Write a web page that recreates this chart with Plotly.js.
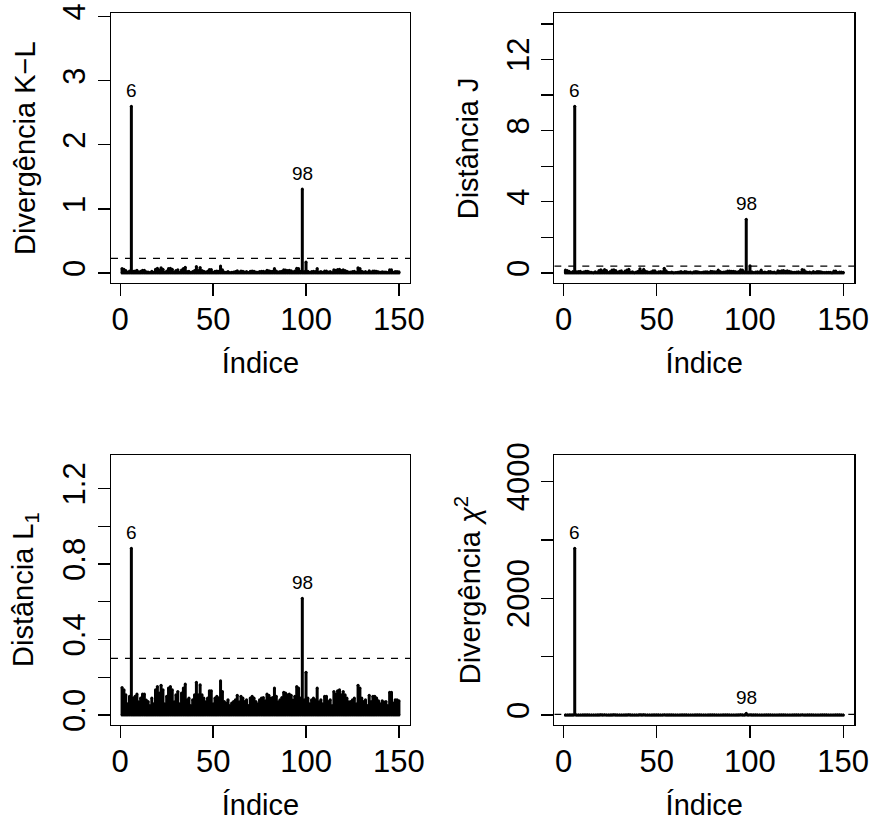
<!DOCTYPE html>
<html><head><meta charset="utf-8">
<script src="https://cdn.plot.ly/plotly-3.0.1.min.js"></script>
<style>html,body{margin:0;padding:0;background:#fff}#chart{width:869px;height:823px}</style>
</head><body><div id="chart"></div>
<script>
// Index of observations (x axis)
const indice = Array.from({length: 150}, (_, i) => i + 1);

// Divergência K-L
const divKL = [0.071,0.060,0.038,0.012,0.033,2.60,0.027,0.033,0.041,0.016,
0.027,0.041,0.041,0.021,0.017,0.008,0.027,0.012,0.060,0.076,
0.045,0.083,0.060,0.012,0.033,0.069,0.076,0.060,0.016,0.038,
0.052,0.012,0.045,0.069,0.090,0.022,0.027,0.008,0.022,0.038,
0.101,0.038,0.086,0.038,0.027,0.016,0.027,0.056,0.056,0.012,
0.027,0.033,0.027,0.110,0.052,0.017,0.013,0.022,0.008,0.013,
0.017,0.022,0.036,0.016,0.033,0.027,0.017,0.022,0.008,0.027,
0.033,0.027,0.017,0.012,0.022,0.027,0.029,0.019,0.041,0.036,
0.027,0.029,0.069,0.033,0.016,0.022,0.029,0.049,0.045,0.038,
0.041,0.036,0.021,0.033,0.076,0.069,0.027,1.31,0.022,0.173,
0.027,0.012,0.022,0.027,0.022,0.069,0.016,0.022,0.012,0.033,
0.033,0.017,0.022,0.008,0.052,0.041,0.056,0.060,0.038,0.052,
0.038,0.027,0.016,0.017,0.022,0.027,0.012,0.083,0.069,0.027,
0.017,0.022,0.008,0.036,0.017,0.033,0.033,0.027,0.019,0.012,
0.019,0.016,0.017,0.008,0.049,0.049,0.013,0.022,0.022,0.019];

// Distância J
const distJ = [0.171,0.144,0.092,0.029,0.078,9.37,0.065,0.078,0.099,0.039,
0.065,0.099,0.099,0.051,0.041,0.020,0.065,0.029,0.144,0.182,
0.108,0.197,0.144,0.029,0.078,0.164,0.182,0.144,0.039,0.092,
0.125,0.029,0.108,0.164,0.215,0.052,0.065,0.020,0.052,0.092,
0.242,0.092,0.205,0.092,0.065,0.039,0.065,0.133,0.133,0.029,
0.065,0.078,0.065,0.262,0.125,0.041,0.032,0.052,0.020,0.032,
0.041,0.052,0.087,0.039,0.078,0.065,0.041,0.052,0.020,0.065,
0.078,0.065,0.041,0.029,0.052,0.065,0.069,0.046,0.099,0.087,
0.065,0.069,0.164,0.078,0.039,0.052,0.069,0.117,0.108,0.092,
0.099,0.087,0.051,0.078,0.182,0.164,0.065,3.02,0.052,0.412,
0.065,0.029,0.052,0.065,0.052,0.164,0.039,0.052,0.029,0.078,
0.078,0.041,0.052,0.020,0.125,0.099,0.133,0.144,0.092,0.125,
0.092,0.065,0.039,0.041,0.052,0.065,0.029,0.197,0.164,0.065,
0.041,0.052,0.020,0.087,0.041,0.078,0.078,0.065,0.046,0.029,
0.046,0.038,0.041,0.020,0.117,0.117,0.032,0.052,0.052,0.046];

// Distância L1
const distL1 = [0.146,0.134,0.107,0.060,0.099,0.883,0.090,0.099,0.111,0.070,
0.090,0.111,0.111,0.080,0.072,0.050,0.090,0.060,0.134,0.151,
0.116,0.157,0.134,0.060,0.099,0.143,0.151,0.134,0.070,0.107,
0.125,0.060,0.116,0.143,0.164,0.081,0.090,0.050,0.081,0.107,
0.174,0.107,0.160,0.107,0.090,0.070,0.090,0.129,0.129,0.060,
0.090,0.099,0.090,0.181,0.125,0.072,0.063,0.081,0.050,0.063,
0.072,0.081,0.104,0.070,0.099,0.090,0.072,0.081,0.050,0.090,
0.099,0.090,0.072,0.060,0.081,0.090,0.093,0.076,0.111,0.104,
0.090,0.093,0.143,0.099,0.070,0.081,0.093,0.121,0.116,0.107,
0.111,0.104,0.080,0.099,0.151,0.143,0.090,0.618,0.081,0.227,
0.090,0.060,0.081,0.090,0.081,0.143,0.070,0.081,0.060,0.099,
0.099,0.072,0.081,0.050,0.125,0.111,0.129,0.134,0.107,0.125,
0.107,0.090,0.070,0.072,0.081,0.090,0.060,0.157,0.143,0.090,
0.072,0.081,0.050,0.104,0.072,0.099,0.099,0.090,0.076,0.060,
0.076,0.069,0.072,0.050,0.121,0.121,0.063,0.081,0.081,0.076];

// Divergência chi-quadrado
const divChi2 = [2.1,1.8,1.1,0.4,1.0,2855,0.8,1.0,1.2,0.5,
0.8,1.2,1.2,0.6,0.5,0.3,0.8,0.4,1.8,2.3,
1.3,2.5,1.8,0.4,1.0,2.0,2.3,1.8,0.5,1.1,
1.6,0.4,1.3,2.0,2.7,0.7,0.8,0.3,0.7,1.1,
3.0,1.1,2.6,1.1,0.8,0.5,0.8,1.7,1.7,0.4,
0.8,1.0,0.8,3.3,1.6,0.5,0.4,0.7,0.3,0.4,
0.5,0.7,1.1,0.5,1.0,0.8,0.5,0.7,0.3,0.8,
1.0,0.8,0.5,0.4,0.7,0.8,0.9,0.6,1.2,1.1,
0.8,0.9,2.0,1.0,0.5,0.7,0.9,1.5,1.3,1.1,
1.2,1.1,0.6,1.0,2.3,2.0,0.8,30,0.7,5.2,
0.8,0.4,0.7,0.8,0.7,2.0,0.5,0.7,0.4,1.0,
1.0,0.5,0.7,0.3,1.6,1.2,1.7,1.8,1.1,1.6,
1.1,0.8,0.5,0.5,0.7,0.8,0.4,2.5,2.0,0.8,
0.5,0.7,0.3,1.1,0.5,1.0,1.0,0.8,0.6,0.4,
0.6,0.5,0.5,0.3,1.5,1.5,0.4,0.7,0.7,0.6];

// Highlighted observations
const destaques = [6, 98];

// Cut-off lines
const corteKL = 0.229;
const corteJ = 0.39;
const corteL1 = 0.30;
const corteChi2 = 10;

// Tick values / labels (labelled ticks and unlabelled ticks)
const xTicks = [0, 50, 100, 150];
const yTicksKL = [0, 1, 2, 3, 4];
const yMinorKL = [];
const yTicksJ = [0, 4, 8, 12];
const yMinorJ = [2, 6, 10, 14];
const yTicksL1 = [0, 0.4, 0.8, 1.2];
const yTextL1 = ['0.0', '0.4', '0.8', '1.2'];
const yMinorL1 = [0.2, 0.6, 1.0];
const yTicksChi2 = [0, 2000, 4000];
const yMinorChi2 = [1000, 3000];

const W = 869, H = 823;
const XRANGE = [-4.96, 155.96];
const FONT = '"Liberation Sans", Arial, Helvetica, sans-serif';

const panels = [
  {vals: divKL, ytitle: 'Divergência K−L', box: [111, 13, 410, 283], yr: [-0.156, 4.056], tv: yTicksKL, tt: yTicksKL.map(String), mv: yMinorKL, cut: corteKL},
  {vals: distJ, ytitle: 'Distância J', box: [554.3, 13, 854.3, 283], yr: [-0.562, 14.61], tv: yTicksJ, tt: yTicksJ.map(String), mv: yMinorJ, cut: corteJ},
  {vals: distL1, ytitle: 'Distância L<sub>1</sub>', box: [111, 455, 410, 725], yr: [-0.053, 1.3775], tv: yTicksL1, tt: yTextL1, mv: yMinorL1, cut: corteL1},
  {vals: divChi2, ytitle: 'Divergência <i>χ</i><sup>2</sup>', box: [554.3, 455, 854.3, 725], yr: [-171.3, 4453.6], tv: yTicksChi2, tt: yTicksChi2.map(String), mv: yMinorChi2, cut: corteChi2}
];

const data = [];
const layout = {
  width: W, height: H,
  margin: {l: 0, r: 0, t: 0, b: 0},
  paper_bgcolor: '#fff', plot_bgcolor: '#fff',
  showlegend: false,
  font: {family: FONT, color: '#000'},
  annotations: []
};

panels.forEach((p, k) => {
  const n = k + 1;
  const xa = 'xaxis' + (n === 1 ? '' : n);
  const ya = 'yaxis' + (n === 1 ? '' : n);
  const xr = 'x' + (n === 1 ? '' : n);
  const yr = 'y' + (n === 1 ? '' : n);
  const [l, t, r, b] = p.box;

  // cut-off (dashed) line across the whole plotting region
  data.push({
    type: 'scatter', mode: 'lines', x: XRANGE, y: [p.cut, p.cut], xaxis: xr, yaxis: yr,
    line: {color: '#000', width: 1.3, dash: '7px,7px'}, hoverinfo: 'skip'
  });

  const xs = [], ys = [];
  indice.forEach((i, j) => { xs.push(i, i, null); ys.push(0, p.vals[j], null); });
  data.push({
    type: 'scatter', mode: 'lines+markers', x: xs, y: ys, xaxis: xr, yaxis: yr,
    line: {color: '#000', width: 3}, marker: {color: '#000', size: 3},
    hoverinfo: 'skip'
  });

  const axCommon = {
    showgrid: false, zeroline: false, showline: true, mirror: true,
    linecolor: '#000', linewidth: 1.3,
    ticks: 'outside', ticklen: 12, tickwidth: 1.3, tickcolor: '#000',
    ticklabeloverflow: 'allow', automargin: false,
    tickfont: {family: FONT, size: 31, color: '#000'}, fixedrange: true
  };
  layout[xa] = Object.assign({}, axCommon, {
    domain: [l / W, r / W], range: XRANGE, anchor: yr,
    tickmode: 'array', tickvals: xTicks, ticktext: xTicks.map(String),
    ticklabelstandoff: -4,
    title: {text: 'Índice', font: {family: FONT, size: 29, color: '#000'}, standoff: 17}
  });
  layout[ya] = Object.assign({}, axCommon, {
    domain: [1 - b / H, 1 - t / H], range: p.yr, anchor: xr,
    tickmode: 'array', tickvals: p.tv, ticktext: p.tt, tickangle: -90
  });
  if (p.mv.length) {
    layout[ya].minor = {tickmode: 'array', tickvals: p.mv, ticks: 'outside', ticklen: 12,
      tickwidth: 1.3, tickcolor: '#000', showgrid: false};
  }

  destaques.forEach(d => {
    layout.annotations.push({
      xref: xr, yref: yr, x: d, y: p.vals[indice.indexOf(d)], text: String(d),
      showarrow: false, xanchor: 'center', yanchor: 'middle', yshift: 16,
      font: {family: FONT, size: 19, color: '#000'}
    });
  });

  layout.annotations.push({
    xref: 'paper', yref: 'paper', x: (l - 86) / W, y: 1 - ((t + b) / 2) / H,
    text: p.ytitle, textangle: -90, showarrow: false, xanchor: 'center', yanchor: 'middle',
    font: {family: FONT, size: 29, color: '#000'}
  });
});

Plotly.newPlot('chart', data, layout, {staticPlot: true, displayModeBar: false});
</script>
</body></html>
